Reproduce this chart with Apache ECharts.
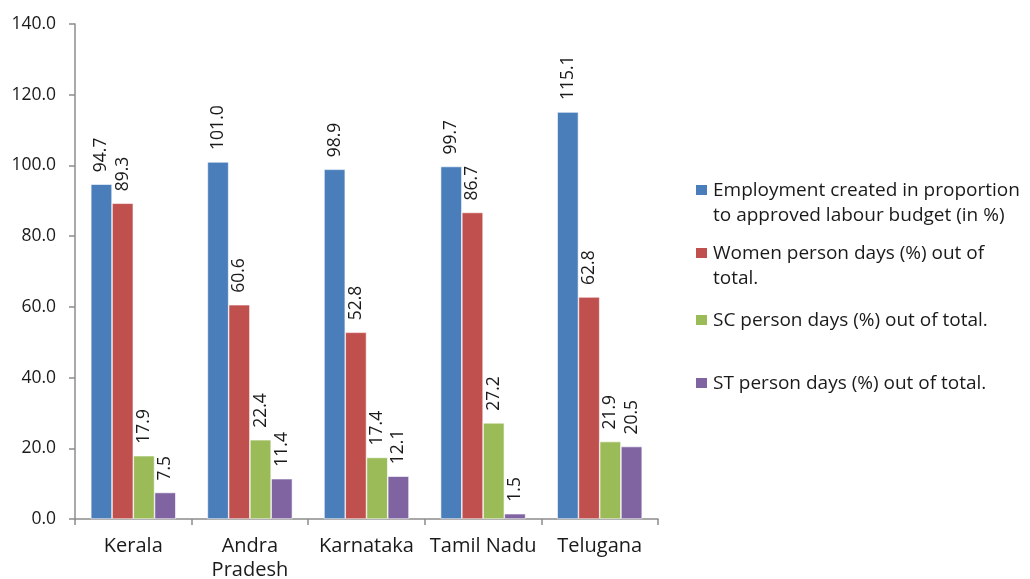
<!DOCTYPE html>
<html>
<head>
<meta charset="utf-8">
<script src="https://cdn.jsdelivr.net/npm/echarts@6/dist/echarts.min.js"></script>
<style>
  html, body { margin: 0; padding: 0; background: #fff; }
  #chart { width: 1030px; height: 579px; }
</style>
</head>
<body>
<div id="chart"></div>
<script>
// States (x categories)
const states = ['Kerala', 'Andra\nPradesh', 'Karnataka', 'Tamil Nadu', 'Telugana'];

// Series values (%)
const employmentVsBudget = [94.7, 101.0, 98.9, 99.7, 115.1];
const womenDays = [89.3, 60.6, 52.8, 86.7, 62.8];
const scDays = [17.9, 22.4, 17.4, 27.2, 21.9];
const stDays = [7.5, 11.4, 12.1, 1.5, 20.5];

// Series names (legend text, with the wrapping used in the key)
const seriesNames = [
  'Employment created in proportion\nto approved labour budget (in %)',
  'Women person days (%) out of\ntotal.',
  'SC person days (%) out of total.',
  'ST person days (%) out of total.'
];

const colors = ['#4A7EBB', '#C0504D', '#9BBB59', '#8064A2'];
const FONT = '"Open Sans"';
const TEXT_COLOR = '#1a1a1a';
const AXIS_COLOR = '#8c8c8c';

const chart = echarts.init(document.getElementById('chart'), null, { renderer: 'canvas' });

function makeSeries(name, data, color) {
  return {
    name: name,
    type: 'bar',
    data: data,
    barWidth: 21.25,
    barGap: '0%',
    itemStyle: { color: color, borderColor: '#ffffff', borderWidth: 0.6 },
    label: {
      show: true,
      position: 'top',
      rotate: 90,
      align: 'left',
      verticalAlign: 'middle',
      distance: 12,
      color: TEXT_COLOR,
      fontFamily: FONT,
      fontSize: 17.5,
      formatter: p => p.value.toFixed(1)
    }
  };
}

// Key on the right: a swatch and a text block per series, each at its own height
const keyLineCenters = [190, 253, 320, 383];
const keyGraphics = [];
seriesNames.forEach((n, i) => {
  const cy = keyLineCenters[i];
  keyGraphics.push({
    type: 'rect',
    left: 696,
    top: cy - 5,
    shape: { width: 11, height: 10 },
    style: { fill: colors[i] },
    silent: true
  });
  keyGraphics.push({
    type: 'text',
    left: 713,
    top: cy - 12,
    style: {
      text: n,
      font: '19px ' + FONT,
      fill: TEXT_COLOR,
      lineHeight: 25,
      verticalAlign: 'top'
    },
    silent: true
  });
});

chart.setOption({
  animation: false,
  color: colors,
  graphic: keyGraphics,
  grid: {
    left: 75, right: 372, top: 24, bottom: 60,
    containLabel: false,
    outerBoundsMode: 'none'
  },
  xAxis: {
    type: 'category',
    data: states,
    axisLine: { lineStyle: { color: AXIS_COLOR, width: 1.5 } },
    axisTick: { show: true, length: 6, lineStyle: { color: AXIS_COLOR, width: 1.5 } },
    axisLabel: {
      margin: 15,
      fontFamily: FONT,
      fontSize: 20,
      color: TEXT_COLOR,
      lineHeight: 24,
      interval: 0
    }
  },
  yAxis: {
    type: 'value',
    min: 0,
    max: 140,
    interval: 20,
    axisLine: { show: true, lineStyle: { color: AXIS_COLOR, width: 1.5 } },
    axisTick: { show: true, length: 6, lineStyle: { color: AXIS_COLOR, width: 1.5 } },
    splitLine: { show: false },
    axisLabel: {
      margin: 19,
      fontFamily: FONT,
      fontSize: 17.5,
      color: TEXT_COLOR,
      formatter: v => v.toFixed(1)
    }
  },
  series: [
    makeSeries(seriesNames[0], employmentVsBudget, colors[0]),
    makeSeries(seriesNames[1], womenDays, colors[1]),
    makeSeries(seriesNames[2], scDays, colors[2]),
    makeSeries(seriesNames[3], stDays, colors[3])
  ]
});
</script>
</body>
</html>
